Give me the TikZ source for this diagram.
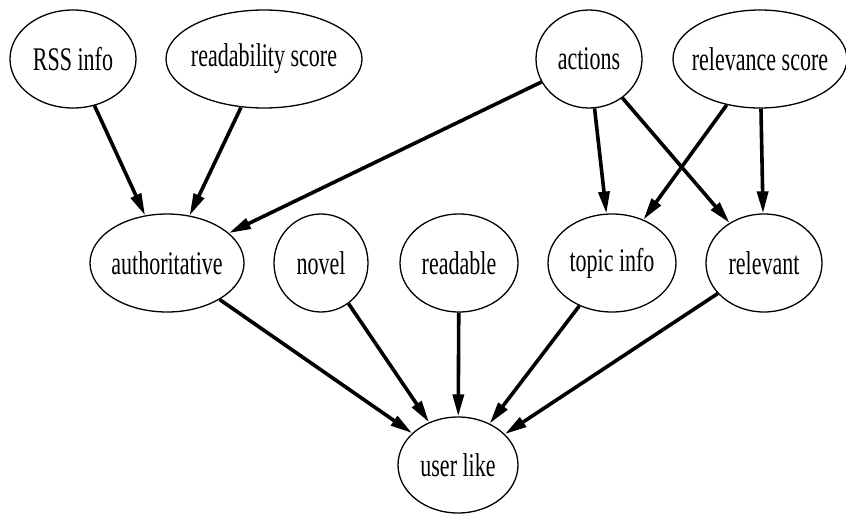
\documentclass[tikz,border=0pt]{standalone}
\usepackage{fontspec}
\setmainfont[FakeStretch=0.667]{Liberation Serif}
\usetikzlibrary{shapes.geometric,arrows.meta}
\newcommand{\ctext}[1]{\makebox[0pt]{#1}}
\begin{document}
\begin{tikzpicture}[x=1pt,y=-1pt,
  var/.style={draw, ellipse, line width=1.3pt, inner sep=0pt,
    font=\fontsize{33}{36}\selectfont, minimum height=98pt},
  dep/.style={line width=3.6pt, -{Triangle[length=22pt,width=11pt]}}]
\useasboundingbox (0,0) rectangle (846,514);

% top row: sources
\node[var, minimum width=126pt] (rss)  at (73,59)  {\ctext{RSS info}};
\node[var, minimum width=196pt] (rscore) at (264,59) {\ctext{readability score}};
\node[var, minimum width=106pt] (act)  at (589,59) {\ctext{actions}};
\node[var, minimum width=174pt] (vscore) at (760,59) {\ctext{relevance score}};

% middle row
\node[var, minimum width=154pt] (auth) at (167,263) {\ctext{authoritative}};
\node[var, minimum width=94pt]  (nov)  at (321,263) {\ctext{novel}};
\node[var, minimum width=118pt] (read) at (459,263) {\ctext{readable}};
\node[var, minimum width=128pt] (topic) at (612,263) {\ctext{topic info}};
\node[var, minimum width=116pt] (rel)  at (764,263) {\ctext{relevant}};

% bottom: target
\node[var, minimum width=120pt, minimum height=96pt] (like) at (458,465) {\ctext{user like}};

% dependencies
\draw[dep] (rss) -- (auth);
\draw[dep] (rscore) -- (auth);
\draw[dep] (act) -- (auth);
\draw[dep] (act) -- (topic);
\draw[dep] (act) -- (rel);
\draw[dep] (vscore) -- (topic);
\draw[dep] (vscore) -- (rel);
\draw[dep] (auth) -- (like);
\draw[dep] (nov) -- (like);
\draw[dep] (read) -- (like);
\draw[dep] (topic) -- (like);
\draw[dep] (rel) -- (like);
\end{tikzpicture}
\end{document}
